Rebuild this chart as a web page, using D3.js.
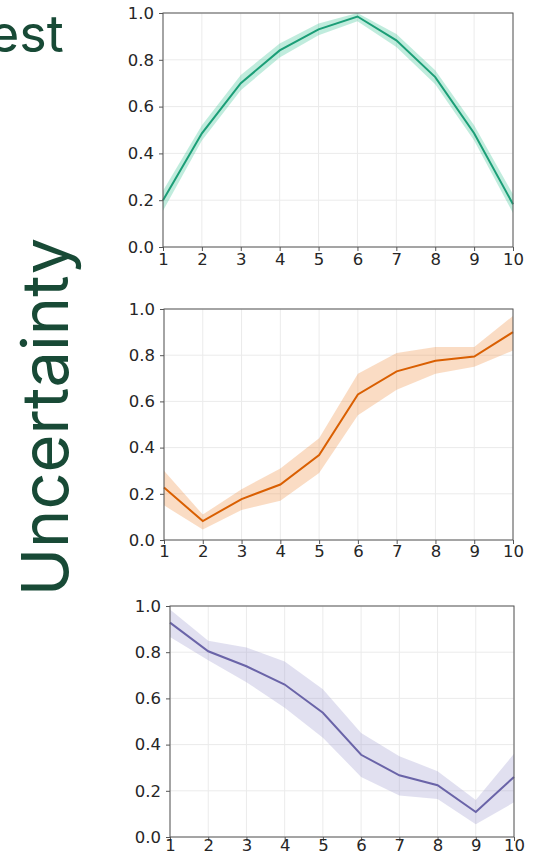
<!DOCTYPE html>
<html>
<head>
<meta charset="utf-8">
<script src="https://cdn.jsdelivr.net/npm/d3@7"></script>
<style>
  html, body { margin: 0; padding: 0; background: #fff; }
  svg { display: block; }
</style>
</head>
<body>
<svg id="chart" width="535" height="859"></svg>
<script>
// Steps along the x axis
const steps = [1, 2, 3, 4, 5, 6, 7, 8, 9, 10];
const yTicks = [0, 0.2, 0.4, 0.6, 0.8, 1.0];

// Series 1 (green): mean with lower / upper bounds
const greenMean  = [0.20, 0.486, 0.70, 0.84, 0.93, 0.985, 0.883, 0.726, 0.486, 0.183];
const greenLower = [0.155, 0.455, 0.67, 0.81, 0.905, 0.965, 0.855, 0.695, 0.455, 0.145];
const greenUpper = [0.24, 0.52, 0.735, 0.87, 0.955, 1.0, 0.91, 0.755, 0.52, 0.225];

// Series 2 (orange)
const orangeMean  = [0.227, 0.082, 0.177, 0.24, 0.368, 0.63, 0.73, 0.776, 0.794, 0.90];
const orangeLower = [0.15, 0.045, 0.13, 0.17, 0.29, 0.54, 0.65, 0.72, 0.75, 0.82];
const orangeUpper = [0.30, 0.11, 0.22, 0.31, 0.44, 0.72, 0.81, 0.835, 0.835, 0.97];

// Series 3 (purple)
const purpleMean  = [0.928, 0.804, 0.739, 0.66, 0.538, 0.356, 0.267, 0.224, 0.108, 0.26];
const purpleLower = [0.866, 0.765, 0.67, 0.56, 0.43, 0.26, 0.18, 0.165, 0.055, 0.15];
const purpleUpper = [0.985, 0.85, 0.82, 0.76, 0.64, 0.45, 0.35, 0.285, 0.16, 0.36];

const panels = [
  { mean: greenMean,  lower: greenLower,  upper: greenUpper,  line: "#1b9e77", band: "#2fc08f",
    left: 163, right: 513, top: 13,  bottom: 247, xPad: 2 },
  { mean: orangeMean, lower: orangeLower, upper: orangeUpper, line: "#d95f02", band: "#f08a3c",
    left: 164, right: 513, top: 309, bottom: 540, xPad: 1 },
  { mean: purpleMean, lower: purpleLower, upper: purpleUpper, line: "#6a64a8", band: "#9c97cc",
    left: 170, right: 514, top: 606, bottom: 837, xPad: -2 }
];

const svg = d3.select("#chart");

// Panel titles on the left
svg.append("text")
  .attr("x", -11).attr("y", 52)
  .attr("font-family", "Inter, 'Open Sans', sans-serif")
  .attr("font-size", 52)
  .attr("fill", "#184a36")
  .text("est");

svg.append("text")
  .attr("transform", "translate(68,417) rotate(-90)")
  .attr("text-anchor", "middle")
  .attr("font-family", "Inter, 'Open Sans', sans-serif")
  .attr("font-size", 65)
  .attr("fill", "#184a36")
  .text("Uncertainty");

panels.forEach(p => {
  const x = d3.scaleLinear().domain([1, 10]).range([p.left, p.right]);
  const y = d3.scaleLinear().domain([0, 1]).range([p.bottom, p.top]);
  const g = svg.append("g");

  // grid
  g.append("g").selectAll("line").data(steps).join("line")
    .attr("x1", d => x(d)).attr("x2", d => x(d))
    .attr("y1", p.top).attr("y2", p.bottom)
    .attr("stroke", "#ebebeb").attr("stroke-width", 1);
  g.append("g").selectAll("line").data(yTicks).join("line")
    .attr("x1", p.left).attr("x2", p.right)
    .attr("y1", d => y(d)).attr("y2", d => y(d))
    .attr("stroke", "#ebebeb").attr("stroke-width", 1);

  const rows = steps.map((s, i) => ({ s, m: p.mean[i], lo: p.lower[i], hi: p.upper[i] }));

  // uncertainty band
  g.append("path")
    .datum(rows)
    .attr("d", d3.area().x(d => x(d.s)).y0(d => y(d.lo)).y1(d => y(d.hi)))
    .attr("fill", p.band).attr("fill-opacity", 0.3);

  // mean line
  g.append("path")
    .datum(rows)
    .attr("d", d3.line().x(d => x(d.s)).y(d => y(d.m)))
    .attr("fill", "none").attr("stroke", p.line).attr("stroke-width", 2);

  // frame
  g.append("rect")
    .attr("x", p.left).attr("y", p.top)
    .attr("width", p.right - p.left).attr("height", p.bottom - p.top)
    .attr("fill", "none").attr("stroke", "#555").attr("stroke-width", 1);

  // axes
  const xAxis = g.append("g")
    .attr("transform", `translate(0,${p.bottom})`)
    .call(d3.axisBottom(x).tickValues(steps).tickFormat(d3.format("d")).tickSize(4).tickPadding(p.xPad));
  const yAxis = g.append("g")
    .attr("transform", `translate(${p.left},0)`)
    .call(d3.axisLeft(y).tickValues(yTicks).tickFormat(d3.format(".1f")).tickSize(4).tickPadding(5));
  [xAxis, yAxis].forEach(a => {
    a.select(".domain").remove();
    a.selectAll(".tick line").attr("stroke", "#555");
    a.selectAll(".tick text")
      .attr("fill", "#262626")
      .attr("font-family", "'DejaVu Sans', sans-serif")
      .attr("font-size", 16.5);
  });
});
</script>
</body>
</html>
